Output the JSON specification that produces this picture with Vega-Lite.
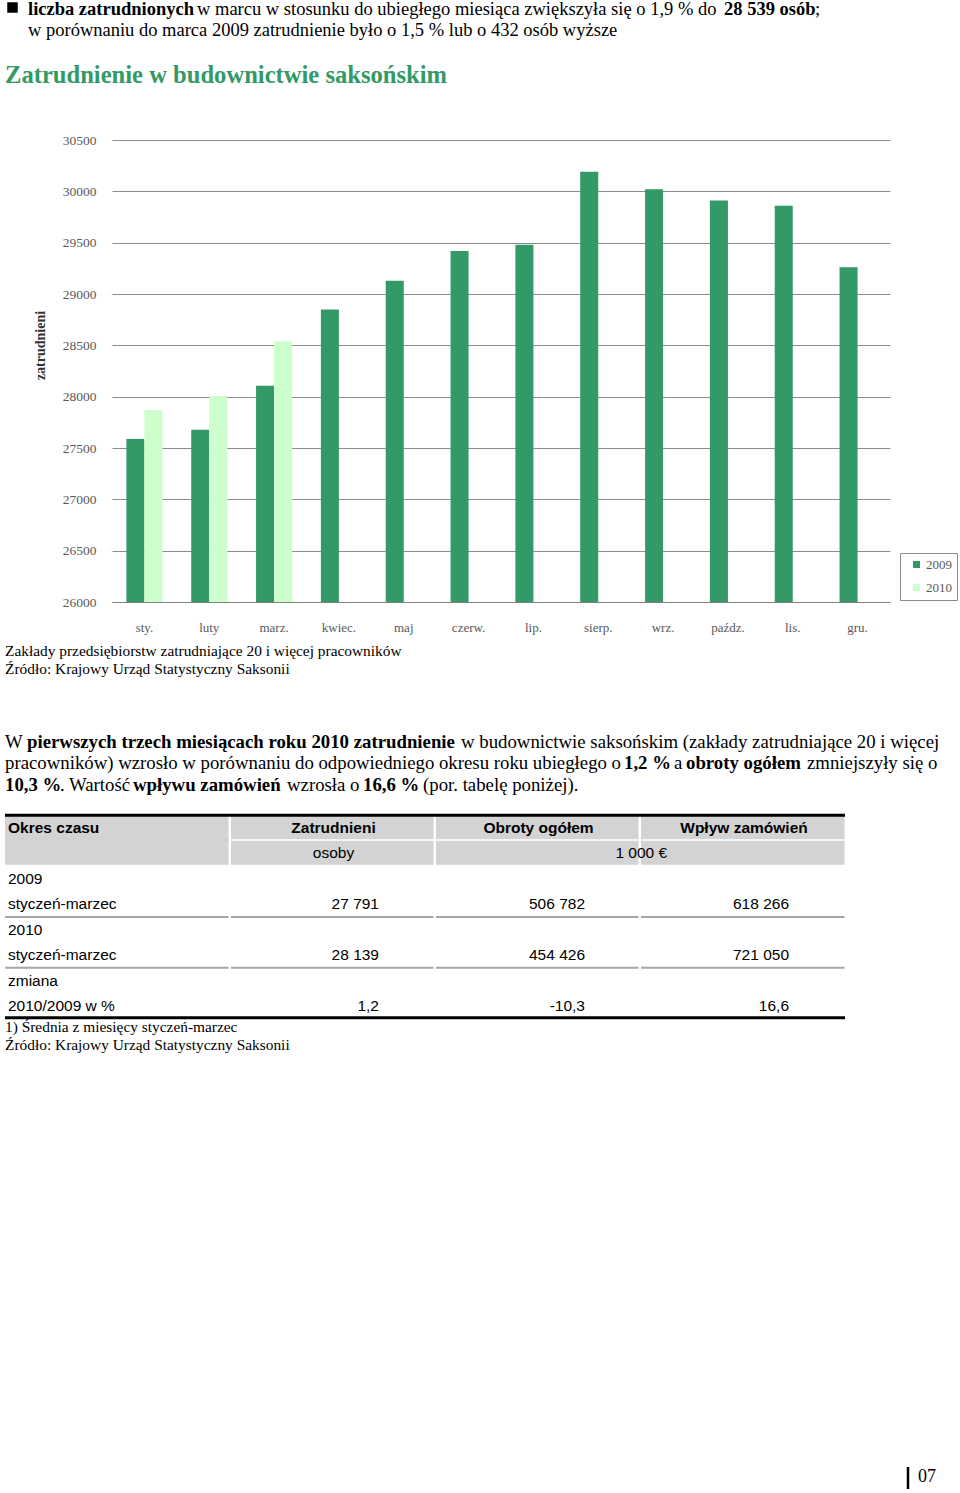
{
  "$schema": "https://vega.github.io/schema/vega-lite/v6.json",
  "width": 778,
  "height": 462,
  "autosize": {"type": "none"},
  "padding": {"left": 112, "top": 140, "right": 70, "bottom": 891},
  "background": "white",
  "config": {"view": {"stroke": null}},
  "resolve": {"scale": {"x": "independent", "y": "independent"}, "axis": {"x": "independent", "y": "independent"}},
  "layer": [
    {
      "data": {"values": [
        {"month": "sty.", "year": "2009", "value": 27588},
        {"month": "sty.", "year": "2010", "value": 27871},
        {"month": "luty", "year": "2009", "value": 27678},
        {"month": "luty", "year": "2010", "value": 28007},
        {"month": "marz.", "year": "2009", "value": 28107},
        {"month": "marz.", "year": "2010", "value": 28539},
        {"month": "kwiec.", "year": "2009", "value": 28850},
        {"month": "maj", "year": "2009", "value": 29130},
        {"month": "czerw.", "year": "2009", "value": 29420},
        {"month": "lip.", "year": "2009", "value": 29480},
        {"month": "sierp.", "year": "2009", "value": 30190},
        {"month": "wrz.", "year": "2009", "value": 30020},
        {"month": "paźdz.", "year": "2009", "value": 29910},
        {"month": "lis.", "year": "2009", "value": 29860},
        {"month": "gru.", "year": "2009", "value": 29260}
      ]},
      "mark": {"type": "bar"},
      "encoding": {
        "x": {
          "field": "month", "type": "nominal",
          "sort": ["sty.", "luty", "marz.", "kwiec.", "maj", "czerw.", "lip.", "sierp.", "wrz.", "paźdz.", "lis.", "gru."],
          "scale": {"paddingInner": 0.444, "paddingOuter": 0.222},
          "axis": {"title": null, "labelAngle": 0, "ticks": false, "domain": true, "domainColor": "#808080", "labelFont": "Liberation Serif", "labelFontSize": 13, "labelColor": "#595959", "labelPadding": 19}
        },
        "xOffset": {"field": "year", "type": "nominal", "scale": {"domain": ["2009", "2010"], "paddingInner": 0, "paddingOuter": 0}},
        "y": {
          "field": "value", "type": "quantitative",
          "scale": {"domain": [26000, 30500], "nice": false, "zero": false, "clamp": true},
          "axis": {
            "title": "zatrudnieni", "values": [26000, 26500, 27000, 27500, 28000, 28500, 29000, 29500, 30000, 30500],
            "format": "d", "grid": true, "gridColor": "#8c8c8c", "domain": false, "ticks": false,
            "labelPadding": 16, "labelFont": "Liberation Serif", "labelFontSize": 13.5, "labelColor": "#595959",
            "titleFont": "Liberation Serif", "titleFontSize": 14, "titleFontWeight": "bold", "titleColor": "#333333",
            "titleX": -72, "titleY": 205, "titleAngle": -90, "titleAlign": "center", "titleBaseline": "middle"
          }
        },
        "color": {
          "field": "year", "type": "nominal",
          "scale": {"domain": ["2009", "2010"], "range": ["#339966", "#ccffcc"]},
          "legend": {"orient": "none", "legendX": 788, "legendY": 413, "title": null, "strokeColor": "#8c8c8c", "fillColor": "white", "padding": 5, "symbolType": "square", "symbolSize": 50, "symbolStrokeWidth": 0, "symbolOffset": 5, "labelFont": "Liberation Serif", "labelFontSize": 13, "labelColor": "#595959", "rowPadding": 9, "labelOffset": 3}
        }
      }
    },
    {
      "data": {"values": [
        {"seg": 0, "t": "w marcu w stosunku do ubiegłego miesiąca zwiększyła się o 1,9 % do"},
        {"seg": 1, "t": ";"},
        {"seg": 2, "t": "w porównaniu do marca 2009 zatrudnienie było o 1,5 % lub o 432 osób wyższe"}
      ]},
      "mark": {"type": "text", "align": "left", "baseline": "middle", "font": "Liberation Serif", "fontSize": 18.5, "color": "black"},
      "encoding": {
        "x": {"field": "seg", "type": "quantitative", "axis": null, "scale": {"domain": [0, 1, 2], "range": [85, 703, -84], "nice": false, "zero": false}},
        "y": {"field": "seg", "type": "quantitative", "axis": null, "scale": {"domain": [0, 1, 2], "range": [-131, -131, -110], "nice": false, "zero": false}},
        "text": {"field": "t"}
      }
    },
    {
      "data": {"values": [
        {"seg": 0, "t": "liczba zatrudnionych"},
        {"seg": 1, "t": "28 539 osób"}
      ]},
      "mark": {"type": "text", "align": "left", "baseline": "middle", "font": "Liberation Serif", "fontSize": 18.5, "fontWeight": "bold", "color": "black"},
      "encoding": {
        "x": {"field": "seg", "type": "quantitative", "axis": null, "scale": {"domain": [0, 1], "range": [-84, 612], "nice": false, "zero": false}},
        "y": {"field": "seg", "type": "quantitative", "axis": null, "scale": {"domain": [0, 1], "range": [-131, -131], "nice": false, "zero": false}},
        "text": {"field": "t"}
      }
    },
    {
      "data": {"values": [
        {"seg": 0, "t": "W"},
        {"seg": 1, "t": "w budownictwie saksońskim (zakłady zatrudniające 20 i więcej"},
        {"seg": 2, "t": "pracowników) wzrosło w porównaniu do odpowiedniego okresu roku ubiegłego o"},
        {"seg": 3, "t": "a"},
        {"seg": 4, "t": "zmniejszyły się o"},
        {"seg": 5, "t": ". Wartość"},
        {"seg": 6, "t": "wzrosła o"},
        {"seg": 7, "t": "(por. tabelę poniżej)."}
      ]},
      "mark": {"type": "text", "align": "left", "baseline": "middle", "font": "Liberation Serif", "fontSize": 18.8, "color": "black"},
      "encoding": {
        "x": {"field": "seg", "type": "quantitative", "axis": null, "scale": {"domain": [0, 1, 2, 3, 4, 5, 6, 7], "range": [-107, 349, -107, 562, 695, -52, 175, 311], "nice": false, "zero": false}},
        "y": {"field": "seg", "type": "quantitative", "axis": null, "scale": {"domain": [0, 1, 2, 3, 4, 5, 6, 7], "range": [602, 602, 623, 623, 623, 645, 645, 645], "nice": false, "zero": false}},
        "text": {"field": "t"}
      }
    },
    {
      "data": {"values": [
        {"seg": 0, "t": "pierwszych trzech miesiącach roku 2010 zatrudnienie"},
        {"seg": 1, "t": "1,2 %"},
        {"seg": 2, "t": "obroty ogółem"},
        {"seg": 3, "t": "10,3 %"},
        {"seg": 4, "t": "wpływu zamówień"},
        {"seg": 5, "t": "16,6 %"}
      ]},
      "mark": {"type": "text", "align": "left", "baseline": "middle", "font": "Liberation Serif", "fontSize": 18.8, "fontWeight": "bold", "color": "black"},
      "encoding": {
        "x": {"field": "seg", "type": "quantitative", "axis": null, "scale": {"domain": [0, 1, 2, 3, 4, 5], "range": [-85, 512, 574, -107, 21, 251], "nice": false, "zero": false}},
        "y": {"field": "seg", "type": "quantitative", "axis": null, "scale": {"domain": [0, 1, 2, 3, 4, 5], "range": [602, 623, 623, 645, 645, 645], "nice": false, "zero": false}},
        "text": {"field": "t"}
      }
    },
    {
      "data": {"values": [{"seg": 0}]},
      "mark": {"type": "point", "shape": "square", "filled": true, "color": "black", "size": 110, "opacity": 1},
      "encoding": {
        "x": {"field": "seg", "type": "quantitative", "axis": null, "scale": {"domain": [0, 1], "range": [-99.5, 0], "nice": false, "zero": false}},
        "y": {"field": "seg", "type": "quantitative", "axis": null, "scale": {"domain": [0, 1], "range": [-132.5, 0], "nice": false, "zero": false}}
      }
    },
    {
      "data": {"values": [{"seg": 0, "t": "Zatrudnienie w budownictwie saksońskim"}]},
      "mark": {"type": "text", "align": "left", "baseline": "middle", "font": "Liberation Serif", "fontSize": 24.6, "fontWeight": "bold", "color": "#339966"},
      "encoding": {
        "x": {"field": "seg", "type": "quantitative", "axis": null, "scale": {"domain": [0, 1], "range": [-107, 0], "nice": false, "zero": false}},
        "y": {"field": "seg", "type": "quantitative", "axis": null, "scale": {"domain": [0, 1], "range": [-64, 0], "nice": false, "zero": false}},
        "text": {"field": "t"}
      }
    },
    {
      "data": {"values": [
        {"seg": 0, "t": "Zakłady przedsiębiorstw zatrudniające 20 i więcej pracowników"},
        {"seg": 1, "t": "Źródło: Krajowy Urząd Statystyczny Saksonii"},
        {"seg": 2, "t": "1) Średnia z miesięcy styczeń-marzec"},
        {"seg": 3, "t": "Źródło: Krajowy Urząd Statystyczny Saksonii"}
      ]},
      "mark": {"type": "text", "align": "left", "baseline": "middle", "font": "Liberation Serif", "fontSize": 15.4, "color": "black"},
      "encoding": {
        "x": {"field": "seg", "type": "quantitative", "axis": null, "scale": {"domain": [0, 3], "range": [-107, -107], "nice": false, "zero": false}},
        "y": {"field": "seg", "type": "quantitative", "axis": null, "scale": {"domain": [0, 1, 2, 3], "range": [511, 529, 887, 905], "nice": false, "zero": false}},
        "text": {"field": "t"}
      }
    },
    {
      "data": {"values": [
        {"c": 0, "c2": 1, "r": -0.5, "r2": 1.5},
        {"c": 1, "c2": 2, "r": -0.5, "r2": 0.5},
        {"c": 1, "c2": 2, "r": 0.5, "r2": 1.5},
        {"c": 2, "c2": 3, "r": -0.5, "r2": 0.5},
        {"c": 2, "c2": 3, "r": 0.5, "r2": 1.5},
        {"c": 3, "c2": 4, "r": -0.5, "r2": 0.5},
        {"c": 3, "c2": 4, "r": 0.5, "r2": 1.5}
      ]},
      "mark": {"type": "rect", "color": "#d3d3d3", "x2Offset": -2.5, "y2Offset": -1.5},
      "encoding": {
        "x": {"field": "c", "type": "quantitative", "axis": null, "scale": {"domain": [0, 1, 2, 3, 4], "range": [-107, 119, 324, 529, 735], "nice": false, "zero": false}},
        "x2": {"field": "c2"},
        "y": {"field": "r", "type": "quantitative", "axis": null, "scale": {"domain": [0, 7], "range": [688, 866], "nice": false, "zero": false}},
        "y2": {"field": "r2"}
      }
    },
    {
      "data": {"values": [
        {"c": 0, "c2": 1, "r": 3.5}, {"c": 1, "c2": 2, "r": 3.5}, {"c": 2, "c2": 3, "r": 3.5}, {"c": 3, "c2": 4, "r": 3.5},
        {"c": 0, "c2": 1, "r": 5.5}, {"c": 1, "c2": 2, "r": 5.5}, {"c": 2, "c2": 3, "r": 5.5}, {"c": 3, "c2": 4, "r": 5.5}
      ]},
      "mark": {"type": "rule", "color": "#a6a6a6", "strokeWidth": 2, "x2Offset": -2.5},
      "encoding": {
        "x": {"field": "c", "type": "quantitative", "axis": null, "scale": {"domain": [0, 1, 2, 3, 4], "range": [-107, 119, 324, 529, 735], "nice": false, "zero": false}},
        "x2": {"field": "c2"},
        "y": {"field": "r", "type": "quantitative", "axis": null, "scale": {"domain": [0, 7], "range": [688, 866], "nice": false, "zero": false}}
      }
    },
    {
      "data": {"values": [
        {"c": 0, "c2": 4, "r": -0.5},
        {"c": 0, "c2": 4, "r": 7.5}
      ]},
      "mark": {"type": "rule", "color": "black", "strokeWidth": 3, "x2Offset": -2},
      "encoding": {
        "x": {"field": "c", "type": "quantitative", "axis": null, "scale": {"domain": [0, 1, 2, 3, 4], "range": [-107, 119, 324, 529, 735], "nice": false, "zero": false}},
        "x2": {"field": "c2"},
        "y": {"field": "r", "type": "quantitative", "axis": null, "scale": {"domain": [0, 7], "range": [688, 865], "nice": false, "zero": false}}
      }
    },
    {
      "data": {"values": [{"col": 0, "row": 0, "t": "Okres czasu"}]},
      "mark": {"type": "text", "align": "left", "baseline": "middle", "font": "Liberation Sans", "fontSize": 15.5, "fontWeight": "bold", "color": "black", "dx": 3},
      "encoding": {
        "x": {"field": "col", "type": "quantitative", "axis": null, "scale": {"domain": [0, 1, 2, 3, 4], "range": [-107, 119, 324, 529, 735], "nice": false, "zero": false}},
        "y": {"field": "row", "type": "quantitative", "axis": null, "scale": {"domain": [0, 7], "range": [688, 866], "nice": false, "zero": false}},
        "text": {"field": "t"}
      }
    },
    {
      "data": {"values": [
        {"col": 1, "row": 0, "t": "Zatrudnieni"},
        {"col": 2, "row": 0, "t": "Obroty ogółem"},
        {"col": 3, "row": 0, "t": "Wpływ zamówień"}
      ]},
      "mark": {"type": "text", "align": "center", "baseline": "middle", "font": "Liberation Sans", "fontSize": 15.5, "fontWeight": "bold", "color": "black"},
      "encoding": {
        "x": {"field": "col", "type": "quantitative", "axis": null, "scale": {"domain": [0, 1, 2, 3], "range": [6, 221.5, 426.5, 632], "nice": false, "zero": false}},
        "y": {"field": "row", "type": "quantitative", "axis": null, "scale": {"domain": [0, 7], "range": [688, 866], "nice": false, "zero": false}},
        "text": {"field": "t"}
      }
    },
    {
      "data": {"values": [
        {"col": 1, "row": 1, "t": "osoby"},
        {"col": 2.5, "row": 1, "t": "1 000 €"}
      ]},
      "mark": {"type": "text", "align": "center", "baseline": "middle", "font": "Liberation Sans", "fontSize": 15.5, "color": "black"},
      "encoding": {
        "x": {"field": "col", "type": "quantitative", "axis": null, "scale": {"domain": [0, 1, 2, 3], "range": [6, 221.5, 426.5, 632], "nice": false, "zero": false}},
        "y": {"field": "row", "type": "quantitative", "axis": null, "scale": {"domain": [0, 7], "range": [688, 866], "nice": false, "zero": false}},
        "text": {"field": "t"}
      }
    },
    {
      "data": {"values": [
        {"col": 0, "row": 2, "t": "2009"},
        {"col": 0, "row": 3, "t": "styczeń-marzec"},
        {"col": 0, "row": 4, "t": "2010"},
        {"col": 0, "row": 5, "t": "styczeń-marzec"},
        {"col": 0, "row": 6, "t": "zmiana"},
        {"col": 0, "row": 7, "t": "2010/2009 w %"}
      ]},
      "mark": {"type": "text", "align": "left", "baseline": "middle", "font": "Liberation Sans", "fontSize": 15.5, "color": "black", "dx": 3},
      "encoding": {
        "x": {"field": "col", "type": "quantitative", "axis": null, "scale": {"domain": [0, 1, 2, 3, 4], "range": [-107, 119, 324, 529, 735], "nice": false, "zero": false}},
        "y": {"field": "row", "type": "quantitative", "axis": null, "scale": {"domain": [0, 7], "range": [688, 866], "nice": false, "zero": false}},
        "text": {"field": "t"}
      }
    },
    {
      "data": {"values": [
        {"col": 1, "row": 3, "t": "27 791"},
        {"col": 2, "row": 3, "t": "506 782"},
        {"col": 3, "row": 3, "t": "618 266"},
        {"col": 1, "row": 5, "t": "28 139"},
        {"col": 2, "row": 5, "t": "454 426"},
        {"col": 3, "row": 5, "t": "721 050"},
        {"col": 1, "row": 7, "t": "1,2"},
        {"col": 2, "row": 7, "t": "-10,3"},
        {"col": 3, "row": 7, "t": "16,6"}
      ]},
      "mark": {"type": "text", "align": "right", "baseline": "middle", "font": "Liberation Sans", "fontSize": 15.5, "color": "black"},
      "encoding": {
        "x": {"field": "col", "type": "quantitative", "axis": null, "scale": {"domain": [1, 2, 3], "range": [267, 473, 677], "nice": false, "zero": false}},
        "y": {"field": "row", "type": "quantitative", "axis": null, "scale": {"domain": [0, 7], "range": [688, 866], "nice": false, "zero": false}},
        "text": {"field": "t"}
      }
    },
    {
      "data": {"values": [{"seg": 0, "t": "07"}]},
      "mark": {"type": "text", "align": "left", "baseline": "middle", "font": "Liberation Serif", "fontSize": 18, "color": "black"},
      "encoding": {
        "x": {"field": "seg", "type": "quantitative", "axis": null, "scale": {"domain": [0, 1], "range": [806, 0], "nice": false, "zero": false}},
        "y": {"field": "seg", "type": "quantitative", "axis": null, "scale": {"domain": [0, 1], "range": [1337, 0], "nice": false, "zero": false}},
        "text": {"field": "t"}
      }
    },
    {
      "data": {"values": [{"seg": 0}]},
      "mark": {"type": "point", "shape": "M0,-1L0,1", "filled": false, "stroke": "black", "strokeWidth": 2.5, "size": 484, "opacity": 1},
      "encoding": {
        "x": {"field": "seg", "type": "quantitative", "axis": null, "scale": {"domain": [0, 1], "range": [796, 0], "nice": false, "zero": false}},
        "y": {"field": "seg", "type": "quantitative", "axis": null, "scale": {"domain": [0, 1], "range": [1338, 0], "nice": false, "zero": false}}
      }
    }
  ]
}
